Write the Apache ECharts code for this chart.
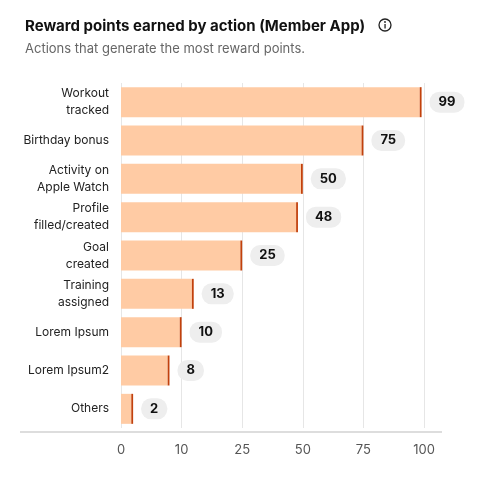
<!DOCTYPE html>
<html><head><meta charset="utf-8">
<script src="https://cdn.jsdelivr.net/npm/echarts@6/dist/echarts.min.js"></script>
<style>html,body{margin:0;padding:0;background:#fff}#c{width:480px;height:477px}</style>
</head><body><div id="c"></div>
<script>
const categories = ['Workout\ntracked','Birthday bonus','Activity on\nApple Watch','Profile\nfilled/created','Goal\ncreated','Training\nassigned','Lorem Ipsum','Lorem Ipsum2','Others'];
const values = [99,75,50,48,25,13,10,8,2];
const tickLabels = [0,10,25,50,75,100];
// piecewise mapping to equally spaced tick positions
function toPos(v){
  for(let i=0;i<tickLabels.length-1;i++){
    const a=tickLabels[i],b=tickLabels[i+1];
    if(v<=b) return i+(v-a)/(b-a);
  }
  return tickLabels.length-1;
}
const cap = 0.03;
const ch = echarts.init(document.getElementById('c'));
const font = 'Inter, "Noto Sans", sans-serif';
ch.setOption({
  textStyle:{fontFamily:font},
  title:{text:'Reward points earned by action (Member App)',subtext:'Actions that generate the most reward points.',left:20,top:14,itemGap:9,
    textStyle:{fontSize:15,fontWeight:'bold',color:'#111',fontFamily:font},
    subtextStyle:{fontSize:13,color:'#666',fontFamily:font}},
  graphic:[
    {type:'circle',shape:{cx:385,cy:25,r:6},style:{fill:'none',stroke:'#222',lineWidth:1.3}},
    {type:'circle',shape:{cx:385,cy:22,r:0.9},style:{fill:'#222'}},
    {type:'rect',shape:{x:384.4,y:24,width:1.3,height:4.5},style:{fill:'#222'}},
    {type:'line',shape:{x1:20,y1:432,x2:442,y2:432},style:{stroke:'#bbb',lineWidth:1}}
  ],
  grid:{left:121,right:56,top:83,bottom:49},
  xAxis:{type:'value',min:0,max:5,interval:1,
    axisLine:{show:false},axisTick:{show:false},splitLine:{show:true,lineStyle:{color:'#e6e6e6'}},
    axisLabel:{color:'#555',fontSize:13,margin:16,formatter:v=>String(tickLabels[v])}},
  yAxis:{type:'category',data:categories,inverse:true,axisLine:{show:false},axisTick:{show:false},
    axisLabel:{color:'#222',fontSize:12,lineHeight:17,margin:12}},
  series:[
    {type:'bar',stack:'a',barWidth:30,data:values.map(v=>toPos(v)-cap),itemStyle:{color:'#FFCBA4'},silent:true},
    {type:'bar',stack:'a',barWidth:30,data:values.map(()=>cap),itemStyle:{color:'#C2410C'},
      label:{show:true,position:'right',distance:8,formatter:p=>String(values[p.dataIndex]),
        fontSize:13,fontWeight:'bold',color:'#111',backgroundColor:'#eeeeee',borderRadius:10,padding:[4,9]}}
  ]
});
</script></body></html>
